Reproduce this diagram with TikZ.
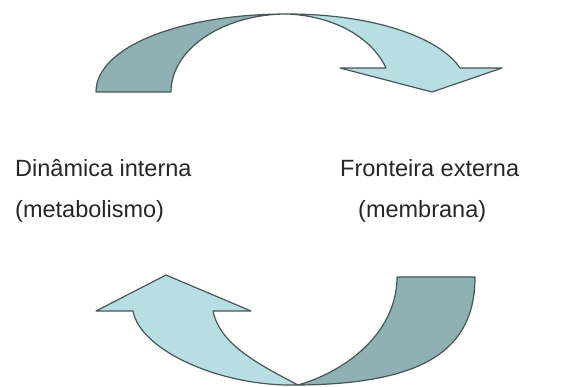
\documentclass[tikz,border=0pt]{standalone}
\usepackage{fontspec}
\setmainfont{Liberation Sans}
\usepackage{xcolor}
\usepackage{tikz}

\definecolor{backteal}{RGB}{143,177,179}
\definecolor{frontteal}{RGB}{183,222,227}
\definecolor{rim}{RGB}{70,86,87}

\begin{document}
\begin{tikzpicture}[
    x=1pt, y=-1pt,
    back/.style={fill=backteal, draw=rim, line width=1.2pt, line join=round},
    front/.style={fill=frontteal, draw=rim, line width=1.2pt, line join=round},
    lbl/.style={anchor=base west, inner sep=0pt, text=black!85,
                font=\fontsize{23.5}{28}\selectfont}
  ]
  \useasboundingbox (0,0) rectangle (569,387);

  % upper arrow
  \coordinate (tpinch) at (287,14);
  \draw[back] (96,92) .. controls (96,47) and (180,14) .. (tpinch)
              .. controls (223,14) and (171,49) .. (171,92) -- cycle;
  \draw[front] (tpinch) .. controls (375,14) and (440,38) .. (460,68)
               -- (502,68) -- (432,92) -- (340,68) -- (386,68)
               .. controls (372,38) and (335,16) .. (tpinch) -- cycle;

  % lower arrow
  \coordinate (bpinch) at (298,385);
  \draw[back] (475,277) .. controls (475,351) and (422,384) .. (bpinch)
              .. controls (350,370) and (397,330) .. (397,277) -- cycle;
  \draw[front] (bpinch) .. controls (220,387) and (140,350) .. (133,311)
               -- (96,311) -- (166,275) -- (251,311) -- (213,311)
               .. controls (220,345) and (260,365) .. (bpinch) -- cycle;

  % labels
  \node[lbl] (dyn) at (15,177)  {Dinâmica interna};
  \node[lbl] (met) at (15,217)  {(metabolismo)};
  \node[lbl] (fro) at (340,177) {Fronteira externa};
  \node[lbl] (mem) at (358,217) {(membrana)};
\end{tikzpicture}
\end{document}
